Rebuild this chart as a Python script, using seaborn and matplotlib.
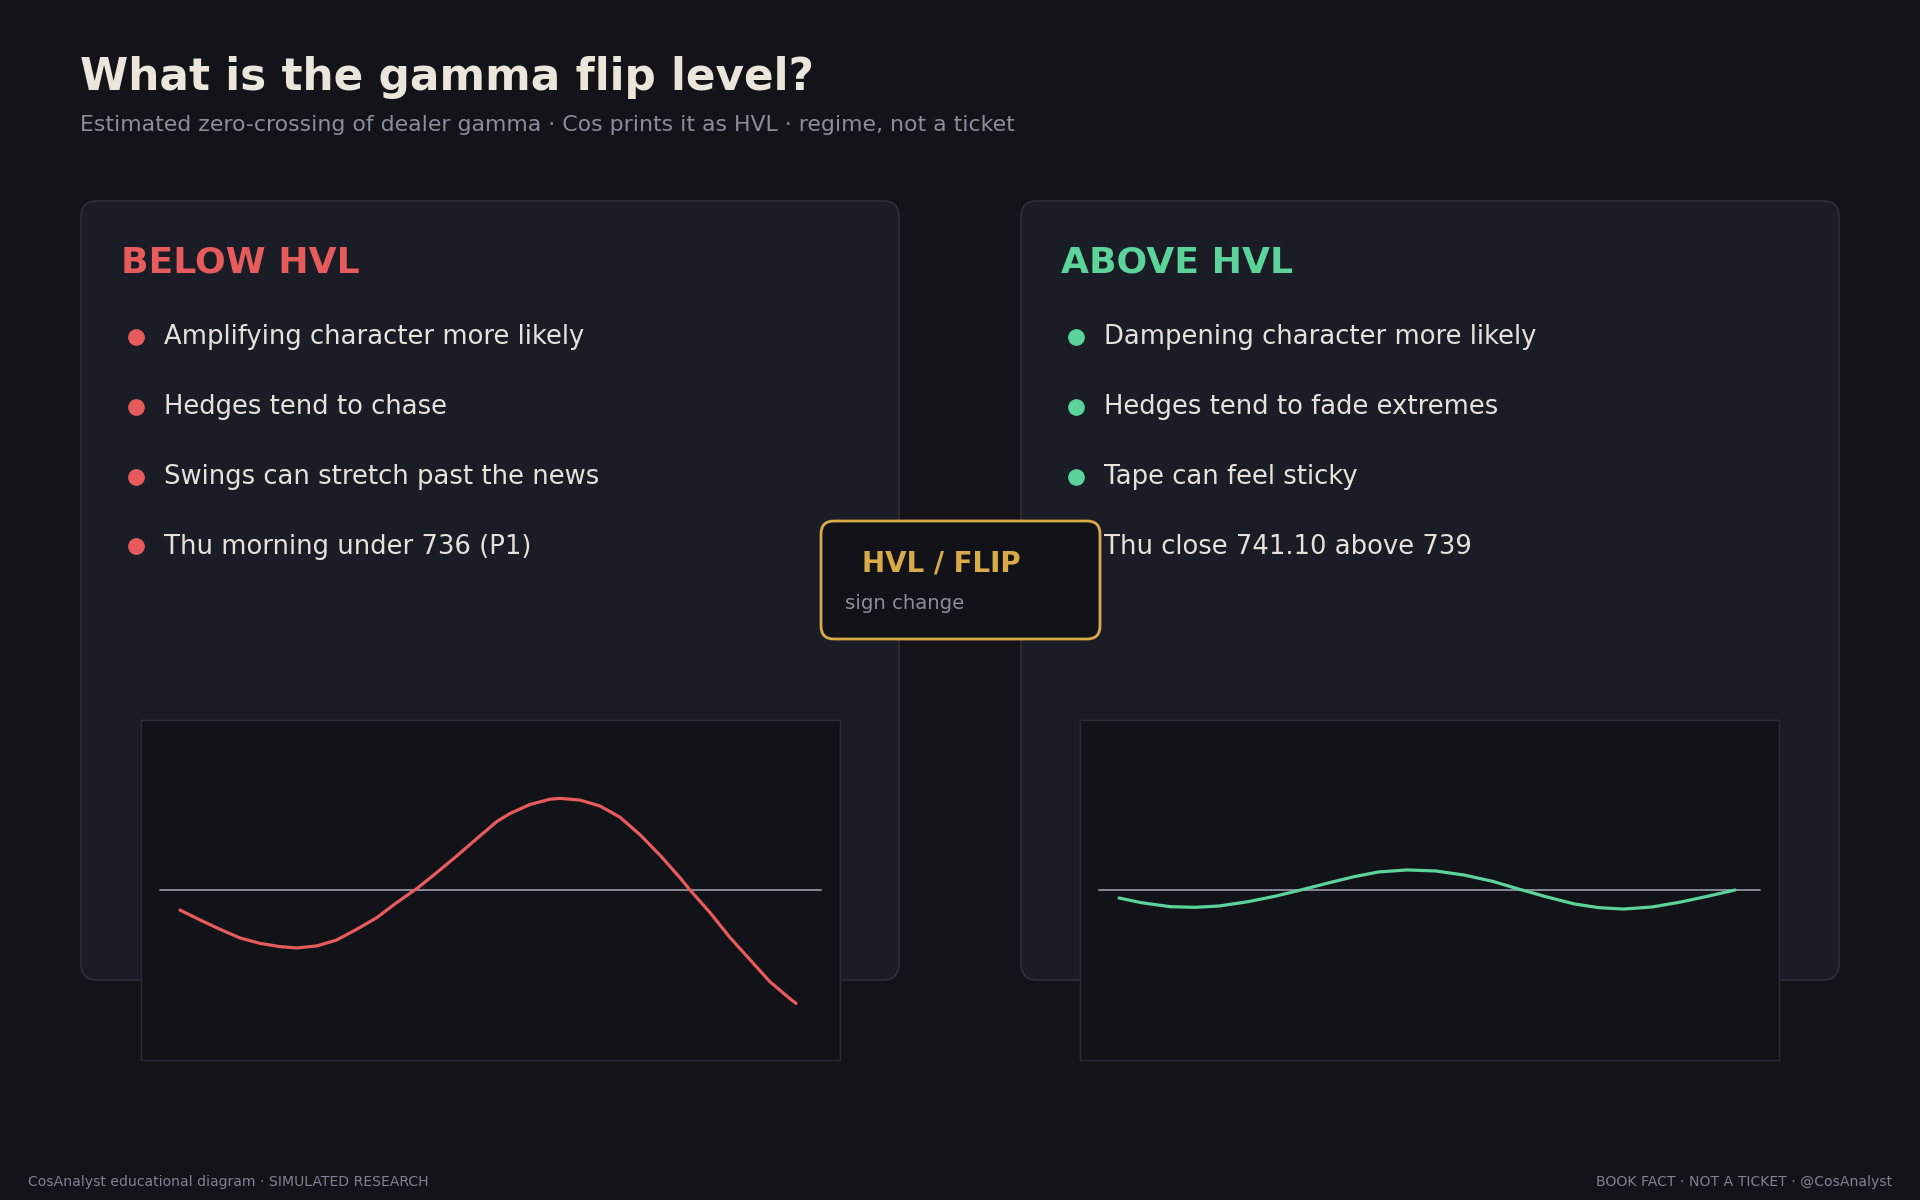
import matplotlib
matplotlib.use("Agg")
import matplotlib.pyplot as plt
import seaborn as sns
from matplotlib.patches import FancyBboxPatch

# colours
BG = "#131419"
CARD = "#1b1d26"
CARD_EDGE = "#2b2e3b"
INSET_BG = "#121318"
INSET_EDGE = "#2a2c37"
RED = "#e85b5d"
GREEN = "#5bd39b"
GOLD = "#d9aa4a"
CREAM = "#ebe6dc"
MUTED = "#8a8d9c"
TEXT = "#e6e2da"

# text content
title = "What is the gamma flip level?"
subtitle = "Estimated zero-crossing of dealer gamma \u00b7 Cos prints it as HVL \u00b7 regime, not a ticket"
below_head = "BELOW HVL"
above_head = "ABOVE HVL"
below_points = ["Amplifying character more likely",
                "Hedges tend to chase",
                "Swings can stretch past the news",
                "Thu morning under 736 (P1)"]
above_points = ["Dampening character more likely",
                "Hedges tend to fade extremes",
                "Tape can feel sticky",
                "Thu close 741.10 above 739"]
flip_label = "HVL / FLIP"
flip_note = "sign change"
footer_left = "CosAnalyst educational diagram \u00b7 SIMULATED RESEARCH"
footer_right = "BOOK FACT \u00b7 NOT A TICKET \u00b7 @CosAnalyst"

# sketch curves
below_t = [0, 0.0325, 0.0649, 0.0974, 0.1299, 0.1623, 0.1894, 0.2219, 0.2544, 0.2869,
           0.3193, 0.3518, 0.3843, 0.4167, 0.4492, 0.4817, 0.5141, 0.5357, 0.5682, 0.6006,
           0.6169, 0.6494, 0.6818, 0.7143, 0.7468, 0.7792, 0.8117, 0.8279, 0.8604, 0.8929,
           0.9253, 0.9578, 0.9903, 1.0]
below_y = [-0.118, -0.176, -0.231, -0.282, -0.314, -0.333, -0.341, -0.329, -0.294, -0.231,
           -0.163, -0.074, 0.008, 0.102, 0.200, 0.302, 0.402, 0.450, 0.503, 0.534,
           0.539, 0.529, 0.494, 0.428, 0.325, 0.205, 0.072, 0.0, -0.133, -0.280,
           -0.410, -0.540, -0.640, -0.667]
above_t = [0, 0.0369, 0.0831, 0.1229, 0.1627, 0.2091, 0.2554, 0.2951, 0.3416, 0.3813,
           0.4211, 0.4675, 0.5138, 0.5602, 0.6067, 0.6464, 0.6927, 0.7391, 0.7789, 0.8187,
           0.8651, 0.9114, 0.9578, 1.0]
above_y = [-0.047, -0.075, -0.098, -0.102, -0.094, -0.069, -0.035, 0.0, 0.043, 0.078,
           0.106, 0.118, 0.112, 0.088, 0.051, 0.008, -0.039, -0.082, -0.104, -0.112,
           -0.100, -0.071, -0.035, 0.0]

sns.set_style("dark")
plt.rcParams['font.family'] = ['DejaVu Sans']

W, H = 1920, 1200
fig = plt.figure(figsize=(19.2, 12), dpi=100, facecolor=BG)
ax = fig.add_axes([0, 0, 1, 1])
ax.set_xlim(0, W)
ax.set_ylim(H, 0)
ax.set_facecolor(BG)
ax.axis("off")

# header
ax.text(80, 90, title, color=CREAM, fontsize=31.5, fontweight="bold", va="baseline")
ax.text(80, 131, subtitle, color=MUTED, fontsize=15.8, va="baseline")

# cards
cards = [(81, below_head, below_points, RED), (1021, above_head, above_points, GREEN)]
for cx, head, points, col in cards:
    ax.add_patch(FancyBboxPatch((cx, 201), 818, 779,
                                boxstyle="round,pad=0,rounding_size=16",
                                facecolor=CARD, edgecolor=CARD_EDGE, linewidth=1.3, zorder=1))
    ax.text(cx + 40, 272.5, head, color=col, fontsize=26, fontweight="bold",
            va="baseline", zorder=2)
    for i, p in enumerate(points):
        yy = 337 + i * 69.8
        ax.plot(cx + 55, yy, "o", color=col, markersize=11, zorder=2)
        ax.text(cx + 83, yy + 7.5, p, color=TEXT, fontsize=18.6, va="baseline", zorder=2)

# flip box in the middle
ax.add_patch(FancyBboxPatch((821, 521), 279, 118,
                            boxstyle="round,pad=0,rounding_size=13",
                            facecolor=INSET_BG, edgecolor=GOLD, linewidth=2, zorder=5))
ax.text(862, 572, flip_label, color=GOLD, fontsize=20, fontweight="bold",
        va="baseline", zorder=6)
ax.text(845, 609, flip_note, color=MUTED, fontsize=14.2, va="baseline", zorder=6)

# footer
ax.text(28, 1186, footer_left, color="#7e8191", fontsize=10.1, va="baseline")
ax.text(1892, 1186, footer_right, color="#7e8191", fontsize=10.1, va="baseline", ha="right")

# inset sketches
insets = [(141, below_t, below_y, RED), (1080, above_t, above_y, GREEN)]
for left, tx, ty, col in insets:
    a = fig.add_axes([left / W, 1 - 1060 / H, 699 / W, 340 / H])
    a.set_facecolor(INSET_BG)
    a.axhline(0, xmin=0.027, xmax=0.973, color="#9a9dab", linewidth=1.2)
    sns.lineplot(x=tx, y=ty, ax=a, color=col, linewidth=2.3)
    a.set_xlim(-0.0633, 1.0714)
    a.set_ylim(-1, 1)
    a.set_xticks([])
    a.set_yticks([])
    a.set_xlabel("")
    a.set_ylabel("")
    for s in a.spines.values():
        s.set_visible(True)
        s.set_color(INSET_EDGE)
        s.set_linewidth(1)

fig.savefig("out.png", dpi=100, facecolor=BG)
